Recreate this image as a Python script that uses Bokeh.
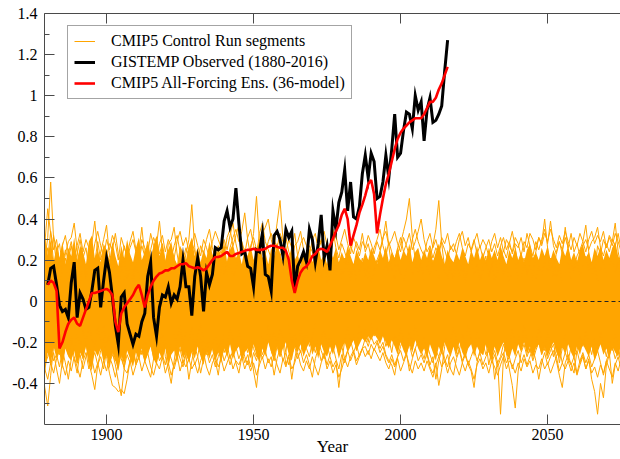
from bokeh.plotting import figure
from bokeh.models import (FixedTicker, CustomJSTickFormatter, LinearAxis, Legend,
                          LegendItem, Range1d)
from bokeh.embed import file_html
from bokeh.resources import INLINE

# ---------------------------------------------------------------- data
obs_years = list(range(1880, 2017))

# GISTEMP observed annual anomaly (deg C)
gistemp = [
    0.08, 0.16, 0.17, 0.08, -0.02, -0.05, -0.04, -0.08, 0.09, 0.19,
    -0.08, 0.04, 0.01, -0.04, -0.03, 0.05, 0.15, 0.16, -0.03, 0.10,
    0.21, 0.14, 0.02, -0.12, -0.21, 0.02, 0.04, -0.11, -0.16, -0.21,
    -0.16, -0.17, -0.10, -0.06, 0.12, 0.19, -0.08, -0.17, -0.03, 0.03,
    0.02, 0.07, -0.01, 0.03, 0.01, 0.07, 0.20, 0.07, 0.07, -0.07,
    0.12, 0.21, 0.12, -0.05, 0.14, 0.08, 0.13, 0.26, 0.25, 0.26,
    0.39, 0.44, 0.36, 0.40, 0.55, 0.38, 0.23, 0.24, 0.17, 0.16,
    0.07, 0.25, 0.24, 0.33, 0.13, 0.12, 0.05, 0.32, 0.34, 0.30,
    0.22, 0.35, 0.31, 0.34, 0.06, 0.17, 0.20, 0.24, 0.19, 0.35,
    0.30, 0.19, 0.28, 0.42, 0.21, 0.27, 0.15, 0.44, 0.35, 0.48,
    0.53, 0.64, 0.44, 0.58, 0.41, 0.40, 0.46, 0.62, 0.71, 0.60,
    0.72, 0.68, 0.50, 0.51, 0.58, 0.71, 0.60, 0.74, 0.91, 0.70,
    0.72, 0.83, 0.92, 0.91, 0.84, 1.00, 0.93, 0.97, 0.78, 0.93,
    0.99, 0.87, 0.88, 0.91, 0.95, 1.12, 1.27,
]

# CMIP5 all-forcing 36-model ensemble mean
ens_mean = [
    0.08, 0.10, 0.09, 0.05, -0.23, -0.20, -0.15, -0.11, -0.09, -0.08,
    -0.11, -0.12, -0.08, -0.04, 0.00, 0.04, 0.04, 0.045, 0.05, 0.055,
    0.06, 0.05, 0.03, -0.10, -0.15, -0.06, -0.03, -0.01, 0.01, 0.03,
    0.06, 0.08, 0.03, -0.03, 0.03, 0.07, 0.10, 0.12, 0.135, 0.14,
    0.15, 0.15, 0.16, 0.16, 0.17, 0.18, 0.18, 0.185, 0.17, 0.165,
    0.16, 0.165, 0.16, 0.15, 0.16, 0.18, 0.20, 0.215, 0.215, 0.22,
    0.23, 0.24, 0.22, 0.22, 0.23, 0.235, 0.24, 0.245, 0.25, 0.25,
    0.255, 0.25, 0.25, 0.25, 0.255, 0.265, 0.27, 0.27, 0.265, 0.26,
    0.26, 0.245, 0.20, 0.10, 0.04, 0.10, 0.14, 0.16, 0.17, 0.19,
    0.22, 0.23, 0.25, 0.255, 0.25, 0.24, 0.27, 0.305, 0.34, 0.37,
    0.42, 0.45, 0.40, 0.27, 0.32, 0.37, 0.43, 0.47, 0.515, 0.57,
    0.59, 0.52, 0.33, 0.42, 0.50, 0.57, 0.62, 0.68, 0.74, 0.79,
    0.82, 0.84, 0.855, 0.87, 0.88, 0.89, 0.89, 0.89, 0.91, 0.94,
    0.97, 0.97, 0.99, 1.03, 1.06, 1.10, 1.14,
]

# Control-run segments: dense core envelope plus individual outer traces
ctrl_years = list(range(1878, 2078))

ctrl_core_hi = [
    0.27, 0.33, 0.22, 0.30, 0.19, 0.27, 0.21, 0.29, 0.18, 0.26,
    0.22, 0.31, 0.20, 0.27, 0.24, 0.18, 0.29, 0.32, 0.21, 0.25,
    0.19, 0.28, 0.25, 0.20, 0.29, 0.22, 0.17, 0.27, 0.21, 0.30,
    0.23, 0.19, 0.26, 0.31, 0.20, 0.24, 0.28, 0.21, 0.27, 0.32,
    0.22, 0.28, 0.19, 0.25, 0.29, 0.21, 0.18, 0.27, 0.24, 0.20,
    0.27, 0.31, 0.22, 0.26, 0.19, 0.25, 0.21, 0.29, 0.23, 0.20,
    0.26, 0.22, 0.29, 0.19, 0.25, 0.28, 0.21, 0.24, 0.18, 0.26,
    0.22, 0.27, 0.20, 0.25, 0.29, 0.21, 0.24, 0.18, 0.26, 0.22,
    0.28, 0.23, 0.19, 0.25, 0.21, 0.27, 0.20, 0.23, 0.17, 0.25,
    0.21, 0.26, 0.19, 0.24, 0.27, 0.20, 0.23, 0.18, 0.25, 0.21,
    0.26, 0.19, 0.24, 0.20, 0.27, 0.22, 0.18, 0.25, 0.21, 0.19,
    0.24, 0.20, 0.26, 0.22, 0.18, 0.25, 0.21, 0.27, 0.19, 0.24,
    0.21, 0.26, 0.20, 0.25, 0.22, 0.28, 0.19, 0.24, 0.26, 0.20,
    0.25, 0.21, 0.27, 0.19, 0.24, 0.28, 0.22, 0.18, 0.25, 0.21,
    0.19, 0.24, 0.20, 0.26, 0.22, 0.18, 0.25, 0.21, 0.27, 0.20,
    0.24, 0.19, 0.26, 0.21, 0.25, 0.20, 0.27, 0.22, 0.18, 0.25,
    0.21, 0.26, 0.20, 0.24, 0.19, 0.25, 0.28, 0.21, 0.24, 0.20,
    0.26, 0.22, 0.27, 0.20, 0.25, 0.21, 0.18, 0.26, 0.22, 0.27,
    0.20, 0.24, 0.19, 0.25, 0.28, 0.21, 0.24, 0.19, 0.26, 0.22,
    0.27, 0.20, 0.25, 0.21, 0.26, 0.29, 0.22, 0.19, 0.25, 0.21,
]

ctrl_core_lo = [
    -0.30, -0.36, -0.25, -0.31, -0.22, -0.28, -0.24, -0.33, -0.23, -0.27,
    -0.29, -0.23, -0.31, -0.25, -0.28, -0.22, -0.30, -0.34, -0.24, -0.27,
    -0.23, -0.30, -0.26, -0.33, -0.25, -0.29, -0.34, -0.26, -0.31, -0.24,
    -0.28, -0.32, -0.25, -0.29, -0.23, -0.30, -0.26, -0.22, -0.28, -0.31,
    -0.25, -0.29, -0.23, -0.32, -0.26, -0.24, -0.30, -0.22, -0.28, -0.25,
    -0.30, -0.24, -0.28, -0.22, -0.27, -0.31, -0.24, -0.28, -0.23, -0.29,
    -0.25, -0.30, -0.23, -0.27, -0.21, -0.28, -0.24, -0.22, -0.29, -0.25,
    -0.23, -0.28, -0.21, -0.26, -0.30, -0.23, -0.27, -0.20, -0.25, -0.28,
    -0.22, -0.27, -0.23, -0.20, -0.26, -0.29, -0.22, -0.25, -0.21, -0.27,
    -0.23, -0.20, -0.26, -0.22, -0.28, -0.21, -0.25, -0.27, -0.22, -0.26,
    -0.21, -0.28, -0.23, -0.20, -0.25, -0.22, -0.19, -0.24, -0.21, -0.18,
    -0.20, -0.17, -0.19, -0.16, -0.18, -0.21, -0.17, -0.20, -0.23, -0.19,
    -0.22, -0.26, -0.20, -0.24, -0.27, -0.21, -0.25, -0.19, -0.23, -0.26,
    -0.23, -0.28, -0.21, -0.25, -0.29, -0.22, -0.26, -0.20, -0.24, -0.27,
    -0.22, -0.26, -0.20, -0.25, -0.28, -0.23, -0.21, -0.27, -0.22, -0.25,
    -0.26, -0.21, -0.25, -0.29, -0.22, -0.27, -0.23, -0.20, -0.26, -0.28,
    -0.23, -0.27, -0.21, -0.25, -0.20, -0.26, -0.22, -0.28, -0.23, -0.21,
    -0.26, -0.22, -0.27, -0.23, -0.20, -0.25, -0.28, -0.22, -0.26, -0.21,
    -0.25, -0.28, -0.22, -0.26, -0.21, -0.24, -0.27, -0.22, -0.29, -0.25,
    -0.21, -0.26, -0.23, -0.28, -0.22, -0.25, -0.27, -0.21, -0.26, -0.23,
]

ctrl_seg_a = [
    0.12, 0.20, 0.31, 0.58, 0.30, 0.18, 0.09, 0.15, 0.21, 0.11,
    0.17, 0.24, 0.13, 0.08, 0.19, 0.14, 0.22, 0.28, 0.39, 0.24,
    0.15, 0.10, 0.18, 0.12, 0.20, 0.16, 0.07, 0.14, 0.21, 0.11,
    0.16, 0.09, 0.19, 0.24, 0.36, 0.22, 0.13, 0.18, 0.10, 0.15,
    0.20, 0.12, 0.17, 0.08, 0.14, 0.21, 0.11, 0.18, 0.15, 0.23,
    0.30, 0.47, 0.26, 0.14, 0.19, 0.10, 0.17, 0.12, 0.20, 0.16,
    0.09, 0.15, 0.21, 0.13, 0.18, 0.11, 0.16, 0.22, 0.14, 0.19,
    0.12, 0.25, 0.33, 0.51, 0.29, 0.17, 0.10, 0.16, 0.21, 0.13,
    0.18, 0.11, 0.15, 0.20, 0.09, 0.14, 0.19, 0.12, 0.17, 0.22,
    0.13, 0.18, 0.10, 0.16, 0.21, 0.12, 0.17, 0.09, 0.15, 0.20,
    0.14, 0.19, 0.11, 0.16, 0.22, 0.13, 0.18, 0.10, 0.15, 0.21,
    0.12, 0.17, 0.09, 0.15, 0.20, 0.24, 0.30, 0.39, 0.27, 0.16,
    0.11, 0.18, 0.13, 0.09, 0.16, 0.21, 0.12, 0.17, 0.14, 0.19,
    0.10, 0.15, 0.21, 0.27, 0.35, 0.49, 0.28, 0.16, 0.11, 0.18,
    0.14, 0.20, 0.12, 0.17, 0.09, 0.15, 0.21, 0.13, 0.18, 0.11,
    0.16, 0.22, 0.12, 0.18, 0.10, 0.15, 0.20, 0.13, 0.17, 0.09,
    0.14, 0.19, 0.11, 0.16, 0.21, 0.13, 0.18, 0.10, 0.24, 0.31,
    0.28, 0.40, 0.26, 0.15, 0.20, 0.12, 0.17, 0.09, 0.14, 0.19,
    0.11, 0.16, 0.22, 0.25, 0.29, 0.37, 0.24, 0.13, 0.18, 0.10,
    0.15, 0.20, 0.12, 0.17, 0.21, 0.14, 0.19, 0.11, 0.16, 0.13,
]

ctrl_seg_b = [
    0.16, 0.28, 0.45, 0.33, 0.19, 0.12, 0.20, 0.15, 0.23, 0.29,
    0.31, 0.38, 0.25, 0.14, 0.21, 0.11, 0.18, 0.13, 0.20, 0.16,
    0.24, 0.30, 0.37, 0.22, 0.15, 0.19, 0.12, 0.17, 0.10, 0.16,
    0.21, 0.13, 0.18, 0.11, 0.17, 0.22, 0.14, 0.25, 0.31, 0.27,
    0.39, 0.24, 0.16, 0.28, 0.30, 0.36, 0.23, 0.15, 0.20, 0.12,
    0.18, 0.14, 0.21, 0.10, 0.16, 0.13, 0.19, 0.24, 0.15, 0.11,
    0.17, 0.22, 0.13, 0.18, 0.26, 0.31, 0.35, 0.29, 0.34, 0.43,
    0.30, 0.22, 0.16, 0.19, 0.12, 0.18, 0.23, 0.29, 0.33, 0.27,
    0.38, 0.49, 0.30, 0.18, 0.13, 0.19, 0.11, 0.16, 0.21, 0.14,
    0.19, 0.12, 0.17, 0.22, 0.15, 0.10, 0.18, 0.13, 0.20, 0.16,
    0.12, 0.18, 0.14, 0.21, 0.16, 0.10, 0.17, 0.22, 0.13, 0.19,
    0.15, 0.11, 0.18, 0.13, 0.20, 0.16, 0.12, 0.19, 0.14, 0.21,
    0.17, 0.23, 0.28, 0.34, 0.40, 0.50, 0.31, 0.20, 0.14, 0.18,
    0.12, 0.17, 0.13, 0.20, 0.15, 0.11, 0.18, 0.14, 0.21, 0.16,
    0.11, 0.17, 0.14, 0.19, 0.12, 0.16, 0.21, 0.13, 0.18, 0.10,
    0.15, 0.20, 0.12, 0.17, 0.22, 0.14, 0.19, 0.25, 0.21, 0.28,
    0.34, 0.26, 0.17, 0.12, 0.18, 0.14, 0.20, 0.15, 0.11, 0.17,
    0.13, 0.19, 0.15, 0.21, 0.12, 0.24, 0.29, 0.23, 0.36, 0.25,
    0.18, 0.14, 0.20, 0.12, 0.17, 0.22, 0.15, 0.19, 0.13, 0.27,
    0.23, 0.30, 0.26, 0.32, 0.29, 0.38, 0.24, 0.17, 0.13, 0.19,
]

ctrl_seg_c = [
    0.22, 0.15, 0.26, 0.19, 0.32, 0.24, 0.28, 0.17, 0.25, 0.20,
    0.27, 0.18, 0.23, 0.30, 0.21, 0.26, 0.16, 0.24, 0.19, 0.29,
    0.20, 0.26, 0.22, 0.28, 0.25, 0.33, 0.23, 0.18, 0.27, 0.21,
    0.26, 0.30, 0.24, 0.19, 0.27, 0.22, 0.29, 0.20, 0.25, 0.31,
    0.23, 0.28, 0.19, 0.25, 0.21, 0.27, 0.32, 0.24, 0.20, 0.26,
    0.22, 0.29, 0.24, 0.19, 0.27, 0.23, 0.30, 0.35, 0.26, 0.21,
    0.27, 0.23, 0.30, 0.25, 0.32, 0.38, 0.28, 0.22, 0.29, 0.24,
    0.20, 0.27, 0.31, 0.25, 0.29, 0.33, 0.36, 0.40, 0.30, 0.24,
    0.28, 0.22, 0.26, 0.31, 0.24, 0.20, 0.27, 0.29, 0.34, 0.25,
    0.21, 0.27, 0.24, 0.19, 0.26, 0.30, 0.23, 0.28, 0.25, 0.35,
    0.26, 0.21, 0.28, 0.24, 0.19, 0.27, 0.23, 0.29, 0.25, 0.33,
    0.24, 0.28, 0.21, 0.26, 0.30, 0.35, 0.27, 0.22, 0.29, 0.24,
    0.20, 0.26, 0.31, 0.24, 0.28, 0.33, 0.25, 0.29, 0.34, 0.40,
    0.30, 0.24, 0.27, 0.21, 0.26, 0.23, 0.29, 0.25, 0.20, 0.27,
    0.24, 0.29, 0.33, 0.26, 0.22, 0.28, 0.25, 0.30, 0.23, 0.27,
    0.21, 0.26, 0.30, 0.24, 0.28, 0.22, 0.27, 0.31, 0.25, 0.29,
    0.23, 0.28, 0.26, 0.31, 0.24, 0.33, 0.27, 0.22, 0.29, 0.25,
    0.30, 0.35, 0.28, 0.39, 0.27, 0.23, 0.29, 0.25, 0.31, 0.26,
    0.33, 0.24, 0.28, 0.22, 0.27, 0.30, 0.25, 0.29, 0.31, 0.36,
    0.26, 0.22, 0.28, 0.24, 0.30, 0.27, 0.33, 0.25, 0.29, 0.23,
]

ctrl_seg_g = [
    0.18, 0.26, 0.21, 0.34, 0.25, 0.30, 0.19, 0.27, 0.32, 0.23,
    0.29, 0.20, 0.27, 0.33, 0.24, 0.30, 0.26, 0.19, 0.28, 0.34,
    0.27, 0.21, 0.30, 0.25, 0.32, 0.28, 0.20, 0.31, 0.26, 0.22,
    0.29, 0.34, 0.25, 0.21, 0.30, 0.26, 0.23, 0.33, 0.27, 0.20,
    0.28, 0.32, 0.24, 0.30, 0.26, 0.21, 0.29, 0.34, 0.27, 0.31,
    0.24, 0.28, 0.33, 0.27, 0.22, 0.30, 0.26, 0.21, 0.29, 0.34,
    0.30, 0.26, 0.22, 0.31, 0.35, 0.27, 0.32, 0.37, 0.28, 0.23,
    0.31, 0.35, 0.27, 0.22, 0.33, 0.38, 0.29, 0.25, 0.21, 0.30,
    0.26, 0.33, 0.29, 0.24, 0.30, 0.26, 0.33, 0.22, 0.28, 0.31,
    0.27, 0.22, 0.30, 0.33, 0.25, 0.29, 0.34, 0.27, 0.21, 0.29,
    0.32, 0.25, 0.30, 0.35, 0.28, 0.23, 0.31, 0.27, 0.22, 0.29,
    0.26, 0.32, 0.28, 0.23, 0.29, 0.25, 0.31, 0.34, 0.27, 0.30,
    0.34, 0.28, 0.24, 0.31, 0.27, 0.22, 0.30, 0.35, 0.29, 0.25,
    0.22, 0.29, 0.33, 0.26, 0.30, 0.24, 0.31, 0.28, 0.33, 0.25,
    0.28, 0.23, 0.30, 0.34, 0.27, 0.31, 0.24, 0.29, 0.33, 0.26,
    0.30, 0.27, 0.22, 0.29, 0.33, 0.26, 0.31, 0.24, 0.30, 0.27,
    0.24, 0.31, 0.28, 0.22, 0.29, 0.26, 0.33, 0.30, 0.25, 0.31,
    0.27, 0.33, 0.29, 0.35, 0.30, 0.26, 0.32, 0.28, 0.34, 0.29,
    0.25, 0.31, 0.27, 0.33, 0.29, 0.24, 0.30, 0.34, 0.28, 0.32,
    0.29, 0.34, 0.26, 0.31, 0.27, 0.33, 0.29, 0.24, 0.30, 0.27,
]

ctrl_seg_d = [
    -0.30, -0.42, -0.51, -0.36, -0.22, -0.15, -0.26, -0.19, -0.12, -0.21,
    -0.17, -0.28, -0.35, -0.24, -0.14, -0.20, -0.11, -0.18, -0.23, -0.13,
    -0.19, -0.12, -0.21, -0.16, -0.25, -0.31, -0.39, -0.46, -0.33, -0.20,
    -0.14, -0.22, -0.17, -0.11, -0.19, -0.24, -0.15, -0.20, -0.13, -0.18,
    -0.22, -0.16, -0.27, -0.33, -0.40, -0.29, -0.18, -0.12, -0.21, -0.15,
    -0.19, -0.13, -0.24, -0.17, -0.11, -0.20, -0.26, -0.18, -0.23, -0.29,
    -0.36, -0.25, -0.16, -0.21, -0.13, -0.19, -0.24, -0.14, -0.20, -0.27,
    -0.31, -0.22, -0.34, -0.42, -0.28, -0.17, -0.23, -0.12, -0.19, -0.15,
    -0.21, -0.14, -0.18, -0.25, -0.12, -0.20, -0.16, -0.23, -0.13, -0.19,
    -0.15, -0.22, -0.17, -0.11, -0.24, -0.18, -0.14, -0.21, -0.27, -0.32,
    -0.29, -0.42, -0.30, -0.19, -0.13, -0.21, -0.16, -0.24, -0.12, -0.18,
    -0.14, -0.20, -0.11, -0.17, -0.13, -0.19, -0.15, -0.22, -0.18, -0.25,
    -0.16, -0.21, -0.13, -0.19, -0.24, -0.15, -0.20, -0.12, -0.18, -0.23,
    -0.17, -0.26, -0.32, -0.35, -0.30, -0.41, -0.33, -0.22, -0.15, -0.20,
    -0.13, -0.19, -0.24, -0.16, -0.21, -0.12, -0.18, -0.23, -0.15, -0.20,
    -0.26, -0.19, -0.31, -0.24, -0.38, -0.29, -0.55, -0.27, -0.18, -0.22,
    -0.14, -0.20, -0.16, -0.23, -0.12, -0.19, -0.25, -0.17, -0.21, -0.13,
    -0.18, -0.24, -0.15, -0.21, -0.27, -0.19, -0.30, -0.23, -0.16, -0.28,
    -0.31, -0.35, -0.24, -0.17, -0.22, -0.14, -0.20, -0.26, -0.18, -0.23,
    -0.15, -0.21, -0.27, -0.19, -0.24, -0.16, -0.22, -0.29, -0.18, -0.25,
]

ctrl_seg_e = [
    -0.20, -0.27, -0.18, -0.31, -0.25, -0.33, -0.40, -0.29, -0.21, -0.26,
    -0.19, -0.24, -0.16, -0.22, -0.28, -0.20, -0.30, -0.36, -0.43, -0.31,
    -0.24, -0.18, -0.27, -0.35, -0.41, -0.42, -0.44, -0.43, -0.45, -0.38,
    -0.29, -0.23, -0.30, -0.21, -0.26, -0.19, -0.25, -0.20, -0.28, -0.22,
    -0.17, -0.24, -0.19, -0.27, -0.21, -0.16, -0.23, -0.28, -0.32, -0.26,
    -0.38, -0.29, -0.22, -0.27, -0.18, -0.24, -0.20, -0.26, -0.21, -0.17,
    -0.23, -0.19, -0.25, -0.21, -0.28, -0.24, -0.30, -0.35, -0.27, -0.20,
    -0.25, -0.18, -0.23, -0.27, -0.20, -0.26, -0.22, -0.17, -0.24, -0.29,
    -0.22, -0.27, -0.20, -0.31, -0.26, -0.38, -0.28, -0.21, -0.25, -0.18,
    -0.23, -0.27, -0.20, -0.25, -0.19, -0.24, -0.28, -0.21, -0.17, -0.23,
    -0.20, -0.26, -0.22, -0.28, -0.24, -0.19, -0.25, -0.21, -0.27, -0.23,
    -0.18, -0.22, -0.17, -0.21, -0.19, -0.23, -0.20, -0.26, -0.29, -0.31,
    -0.36, -0.27, -0.22, -0.18, -0.25, -0.21, -0.27, -0.23, -0.19, -0.24,
    -0.28, -0.21, -0.26, -0.30, -0.24, -0.27, -0.22, -0.28, -0.32, -0.25,
    -0.21, -0.27, -0.23, -0.29, -0.25, -0.31, -0.34, -0.42, -0.30, -0.24,
    -0.20, -0.26, -0.22, -0.28, -0.24, -0.30, -0.27, -0.21, -0.25, -0.33,
    -0.41, -0.52, -0.34, -0.25, -0.21, -0.27, -0.23, -0.29, -0.24, -0.20,
    -0.26, -0.22, -0.28, -0.24, -0.21, -0.27, -0.23, -0.30, -0.25, -0.29,
    -0.22, -0.27, -0.24, -0.30, -0.26, -0.33, -0.28, -0.38, -0.44, -0.55,
    -0.40, -0.47, -0.31, -0.26, -0.22, -0.28, -0.24, -0.30, -0.26, -0.23,
]

ctrl_seg_f = [
    -0.25, -0.31, -0.27, -0.22, -0.29, -0.26, -0.32, -0.24, -0.30, -0.38,
    -0.28, -0.23, -0.30, -0.26, -0.33, -0.27, -0.22, -0.29, -0.25, -0.31,
    -0.27, -0.33, -0.24, -0.30, -0.26, -0.29, -0.23, -0.28, -0.32, -0.26,
    -0.30, -0.25, -0.31, -0.27, -0.24, -0.29, -0.33, -0.37, -0.28, -0.23,
    -0.29, -0.26, -0.31, -0.24, -0.28, -0.33, -0.27, -0.23, -0.30, -0.25,
    -0.29, -0.24, -0.31, -0.27, -0.35, -0.28, -0.24, -0.30, -0.26, -0.32,
    -0.27, -0.23, -0.29, -0.25, -0.31, -0.26, -0.22, -0.28, -0.24, -0.30,
    -0.26, -0.32, -0.25, -0.29, -0.23, -0.28, -0.24, -0.30, -0.27, -0.36,
    -0.28, -0.23, -0.29, -0.25, -0.31, -0.26, -0.22, -0.28, -0.24, -0.30,
    -0.26, -0.31, -0.37, -0.28, -0.23, -0.29, -0.25, -0.31, -0.26, -0.22,
    -0.28, -0.33, -0.26, -0.30, -0.24, -0.29, -0.25, -0.31, -0.27, -0.23,
    -0.22, -0.26, -0.21, -0.24, -0.20, -0.25, -0.22, -0.27, -0.30, -0.26,
    -0.31, -0.27, -0.24, -0.29, -0.25, -0.34, -0.28, -0.23, -0.29, -0.26,
    -0.30, -0.25, -0.31, -0.27, -0.38, -0.29, -0.24, -0.30, -0.26, -0.33,
    -0.36, -0.28, -0.24, -0.30, -0.26, -0.31, -0.27, -0.23, -0.29, -0.25,
    -0.31, -0.27, -0.24, -0.30, -0.26, -0.32, -0.28, -0.25, -0.30, -0.27,
    -0.33, -0.28, -0.24, -0.30, -0.26, -0.31, -0.27, -0.23, -0.29, -0.38,
    -0.30, -0.25, -0.31, -0.27, -0.24, -0.29, -0.36, -0.42, -0.30, -0.26,
    -0.31, -0.27, -0.35, -0.29, -0.25, -0.30, -0.26, -0.32, -0.28, -0.24,
    -0.30, -0.36, -0.29, -0.25, -0.40, -0.31, -0.27, -0.33, -0.28, -0.26,
]

ctrl_seg_h = [
    -0.27, -0.33, -0.38, -0.30, -0.35, -0.28, -0.24, -0.31, -0.36, -0.29,
    -0.34, -0.27, -0.32, -0.37, -0.29, -0.25, -0.33, -0.28, -0.35, -0.30,
    -0.36, -0.29, -0.34, -0.27, -0.31, -0.37, -0.30, -0.26, -0.33, -0.35,
    -0.29, -0.36, -0.31, -0.27, -0.34, -0.29, -0.25, -0.32, -0.36, -0.30,
    -0.33, -0.27, -0.35, -0.30, -0.36, -0.31, -0.26, -0.34, -0.29, -0.32,
    -0.28, -0.33, -0.30, -0.35, -0.29, -0.25, -0.32, -0.36, -0.30, -0.27,
    -0.32, -0.28, -0.34, -0.30, -0.26, -0.33, -0.29, -0.31, -0.27, -0.33,
    -0.29, -0.34, -0.30, -0.36, -0.31, -0.27, -0.33, -0.28, -0.32, -0.26,
    -0.31, -0.35, -0.28, -0.32, -0.27, -0.33, -0.30, -0.25, -0.31, -0.34,
    -0.29, -0.33, -0.27, -0.32, -0.36, -0.30, -0.26, -0.33, -0.29, -0.35,
    -0.31, -0.37, -0.33, -0.28, -0.32, -0.27, -0.24, -0.29, -0.26, -0.23,
    -0.27, -0.24, -0.28, -0.23, -0.26, -0.29, -0.25, -0.30, -0.33, -0.28,
    -0.32, -0.28, -0.34, -0.30, -0.26, -0.31, -0.35, -0.29, -0.33, -0.30,
    -0.34, -0.29, -0.33, -0.37, -0.31, -0.27, -0.32, -0.29, -0.35, -0.30,
    -0.27, -0.32, -0.36, -0.30, -0.34, -0.29, -0.33, -0.38, -0.31, -0.28,
    -0.33, -0.30, -0.35, -0.29, -0.32, -0.36, -0.31, -0.27, -0.33, -0.29,
    -0.31, -0.35, -0.30, -0.34, -0.28, -0.32, -0.29, -0.35, -0.31, -0.33,
    -0.28, -0.33, -0.30, -0.35, -0.31, -0.27, -0.34, -0.30, -0.33, -0.29,
    -0.34, -0.30, -0.36, -0.31, -0.27, -0.33, -0.29, -0.35, -0.32, -0.37,
    -0.31, -0.35, -0.29, -0.33, -0.37, -0.30, -0.34, -0.28, -0.32, -0.30,
]

x_ticks = [1900, 1950, 2000, 2050]
y_ticks = [-0.4, -0.2, 0.0, 0.2, 0.4, 0.6, 0.8, 1.0, 1.2, 1.4]
y_minor = [-0.5, -0.3, -0.1, 0.1, 0.3, 0.5, 0.7, 0.9, 1.1, 1.3]

legend_labels = [
    "CMIP5 Control Run segments",
    "GISTEMP Observed (1880-2016)",
    "CMIP5 All-Forcing Ens. (36-model)",
]

# ---------------------------------------------------------------- styling
SERIF = "Liberation Serif"
ORANGE = "#FFA500"
AXIS_GREY = "#4a4a4a"

p = figure(
    width=620, height=459,
    x_range=Range1d(1878.9, 2074.8), y_range=Range1d(-0.6, 1.4),
    x_axis_type=None, y_axis_type=None,
    output_backend="svg", toolbar_location=None,
    min_border_left=44, min_border_right=0, min_border_top=13, min_border_bottom=35,
)
p.outline_line_color = None
p.background_fill_color = "white"
p.border_fill_color = "white"


def style_axis(ax, labels=True):
    ax.axis_line_color = AXIS_GREY
    ax.axis_line_width = 1
    ax.major_tick_line_color = AXIS_GREY
    ax.minor_tick_line_color = AXIS_GREY
    ax.major_tick_in = 10
    ax.major_tick_out = 0
    ax.minor_tick_in = 5
    ax.minor_tick_out = 0
    ax.major_label_text_font = SERIF
    ax.major_label_text_font_size = "16px" if labels else "0px"
    ax.major_label_text_color = "black"


fmt = CustomJSTickFormatter(code="return (Math.round(tick * 10) / 10).toString();")

x_bottom = LinearAxis(ticker=FixedTicker(ticks=x_ticks, minor_ticks=[]), formatter=fmt)
style_axis(x_bottom)
x_bottom.major_label_standoff = 4
x_bottom.axis_label = "Year"
x_bottom.axis_label_text_font = SERIF
x_bottom.axis_label_text_font_size = "17px"
x_bottom.axis_label_text_font_style = "normal"
x_bottom.axis_label_text_color = "black"
x_bottom.axis_label_standoff = -6
p.add_layout(x_bottom, "below")

x_top = LinearAxis(ticker=FixedTicker(ticks=x_ticks, minor_ticks=[]),
                   formatter=CustomJSTickFormatter(code="return '';"))
style_axis(x_top, labels=False)
x_top.major_label_standoff = 0
p.add_layout(x_top, "above")

y_left = LinearAxis(ticker=FixedTicker(ticks=y_ticks, minor_ticks=y_minor), formatter=fmt)
style_axis(y_left)
y_left.major_label_standoff = 7
p.add_layout(y_left, "left")

# control-run spread
p.varea(x=ctrl_years, y1=ctrl_core_lo, y2=ctrl_core_hi, fill_color=ORANGE)
ctrl_lines = []
for seg in (ctrl_seg_a, ctrl_seg_b, ctrl_seg_c, ctrl_seg_g,
            ctrl_seg_d, ctrl_seg_e, ctrl_seg_f, ctrl_seg_h):
    ctrl_lines.append(p.line(ctrl_years, seg, line_color=ORANGE, line_width=1))

# zero reference
p.hspan(y=[0], line_color="#222222", line_width=1.2, line_dash="4 3")

r_obs = p.line(obs_years, gistemp, line_color="black", line_width=3, line_join="miter")
r_ens = p.line(obs_years, ens_mean, line_color="#FF0000", line_width=2.6)

legend = Legend(
    items=[
        LegendItem(label=legend_labels[0], renderers=[ctrl_lines[0]]),
        LegendItem(label=legend_labels[1], renderers=[r_obs]),
        LegendItem(label=legend_labels[2], renderers=[r_ens]),
    ],
    location=(23, 325),
    label_text_font=SERIF, label_text_font_size="16px", label_text_color="black",
    label_height=16, glyph_height=16, glyph_width=21, spacing=3,
    label_standoff=16, padding=6, margin=0,
    border_line_color=AXIS_GREY, border_line_width=1,
    background_fill_color="white", background_fill_alpha=1.0,
)
p.add_layout(legend)

open("out.html", "w").write(file_html(p, INLINE))
